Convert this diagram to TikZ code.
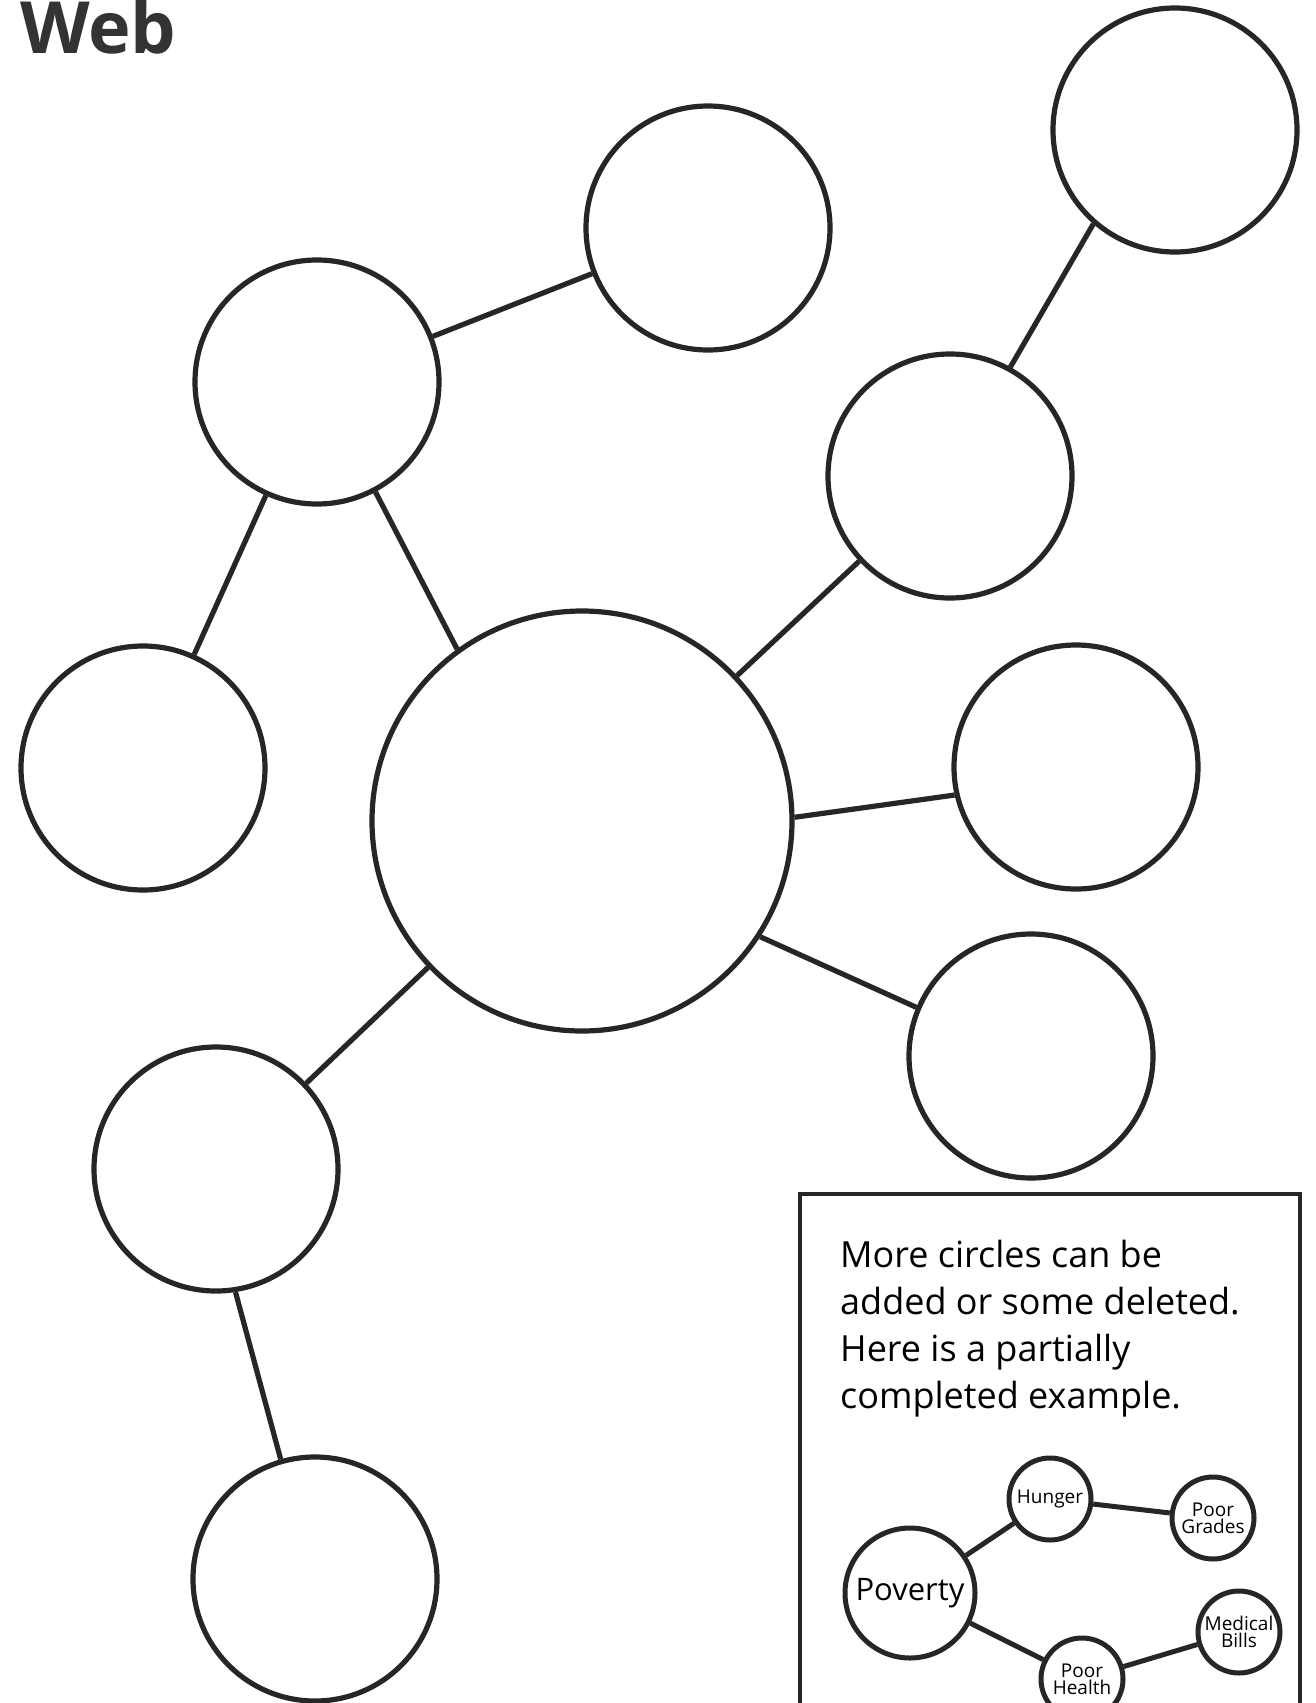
\documentclass[tikz,border=0pt]{standalone}
\usepackage{fontspec}
\setmainfont{Open Sans}
\newfontfamily\titlefont{Open Sans}
\begin{document}
\begin{tikzpicture}[x=1pt,y=-1pt,
  bub/.style={circle,draw=black!85,line width=5.2pt,minimum size=244pt,inner sep=0pt},
  bigbub/.style={circle,draw=black!85,line width=5.2pt,minimum size=420pt,inner sep=0pt},
  link/.style={draw=black!85,line width=5.2pt},
  ex/.style={circle,draw=black!85,line width=5pt,minimum size=82pt,inner sep=0pt,font=\fontsize{19}{17}\selectfont,align=center},
  exlink/.style={draw=black!85,line width=5pt}]
\useasboundingbox[fill=white] (0,0) rectangle (1316,1703);
% title
\node[anchor=base west,inner sep=0pt,text=black!80,font=\titlefont\bfseries\fontsize{72}{72}\selectfont] (title) at (20,53) {Web};
% circles
\node[bub] (c1) at (708,228) {};
\node[bub] (c2) at (1175,130) {};
\node[bub] (c3) at (317,382) {};
\node[bub] (c4) at (950,476) {};
\node[bub] (c5) at (143,768) {};
\node[bigbub] (c6) at (582,821) {};
\node[bub] (c7) at (1076,767) {};
\node[bub] (c8) at (1031,1056) {};
\node[bub] (c9) at (216,1169) {};
\node[bub] (c10) at (315,1579) {};
% links
\draw[link] (c3) -- (c1);
\draw[link] (c2.-131.5) -- (c4.61.2);
\draw[link] (c3) -- (c5);
\draw[link] (c3.-62.3) -- (c6.126.6);
\draw[link] (c4) -- (c6);
\draw[link] (c6.1.8) -- (c7.-167.8);
\draw[link] (c6.-33.6) -- (c8.157.7);
\draw[link] (c6) -- (c9);
\draw[link] (c9.-81) -- (c10.106);
% example box
\draw[draw=black!85,line width=4pt] (800,1760) -- (800,1194) -- (1300,1194) -- (1300,1760);
\node[anchor=north west,align=left,inner sep=0pt,font=\fontsize{36}{47}\selectfont] (note) at (840,1240)
  {More circles can be\\added or some deleted.\\Here is a partially\\completed example.};
\node[ex,minimum size=130pt,font=\fontsize{31}{30}\selectfont] (pov) at (910,1593) {Poverty};
\node[ex] (hun) at (1050,1499) {Hunger};
\node[ex] (pg) at (1213,1518) {Poor\\Grades};
\node[ex] (mb) at (1239,1632) {Medical\\Bills};
\node[ex] (ph) at (1082,1679) {Poor\\Health};
\draw[exlink] (pov) -- (hun);
\draw[exlink] (hun) -- (pg);
\draw[exlink] (pov) -- (ph);
\draw[exlink] (ph) -- (mb);
\end{tikzpicture}
\end{document}
